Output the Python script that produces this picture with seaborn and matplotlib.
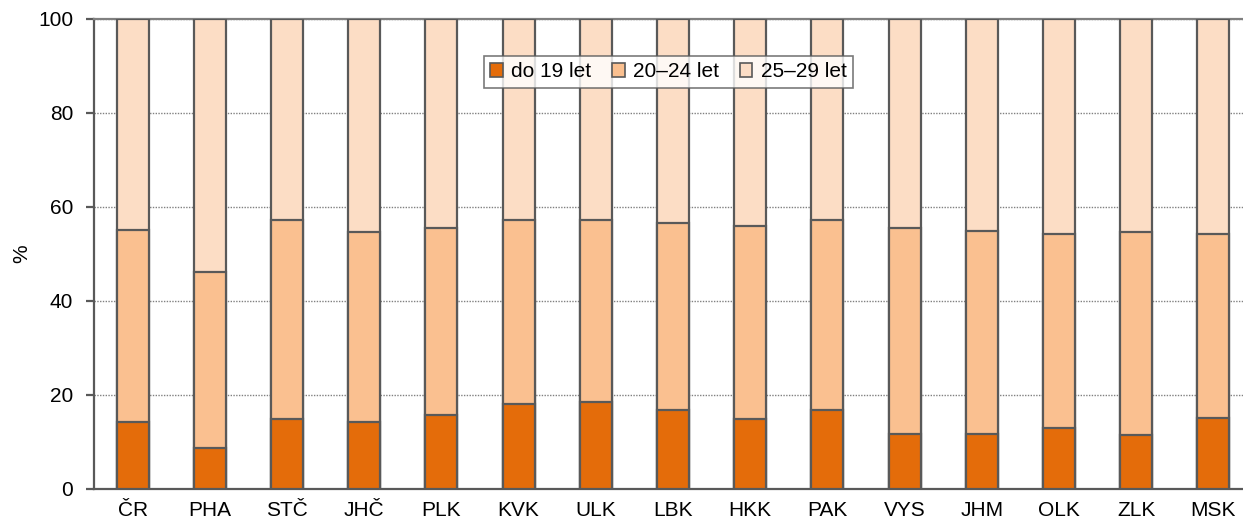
import matplotlib
matplotlib.use("Agg")
import pandas as pd
import matplotlib.pyplot as plt
import seaborn as sns
from matplotlib.patches import Patch

# Data (percent shares by age group)
regions = ["ČR", "PHA", "STČ", "JHČ", "PLK", "KVK", "ULK", "LBK",
           "HKK", "PAK", "VYS", "JHM", "OLK", "ZLK", "MSK"]
do_19 = [14.3, 8.8, 14.8, 14.3, 15.7, 18.1, 18.6, 16.9,
         14.8, 16.9, 11.8, 11.8, 13.0, 11.4, 15.2]
od_20_24 = [40.8, 37.4, 42.4, 40.4, 39.8, 39.1, 38.6, 39.6,
            41.2, 40.4, 43.7, 43.2, 41.2, 43.2, 39.0]
od_25_29 = [round(100 - a - b, 1) for a, b in zip(do_19, od_20_24)]
series_names = ["do 19 let", "20–24 let", "25–29 let"]
colors = ["#E46C0A", "#FAC090", "#FCDDC5"]

df = pd.DataFrame({"region": regions, "a": do_19, "b": od_20_24, "c": od_25_29})
df["cum_b"] = df["a"] + df["b"]
df["cum_c"] = df["cum_b"] + df["c"]

sns.set_theme(style="white")
plt.rcParams["font.family"] = ["Liberation Sans", "DejaVu Sans"]
plt.rcParams["text.color"] = "black"
plt.rcParams["xtick.labelcolor"] = "black"
plt.rcParams["ytick.labelcolor"] = "black"

fig = plt.figure(figsize=(12.43, 5.26), dpi=100)
ax = fig.add_axes([94 / 1243, 1 - 489 / 526, (1252 - 94) / 1243, 470 / 526])

edge = "#595959"
bw = 0.415
# draw stacked bars top layer first
for col, c in zip(["cum_c", "cum_b", "a"], colors[::-1]):
    sns.barplot(data=df, x="region", y=col, color=c, edgecolor=edge,
                linewidth=1.6, width=bw, saturation=1, ax=ax, zorder=3)

ax.set_ylim(0, 100)
ax.set_xlim(-0.5, len(regions) - 0.5)
ax.set_yticks([0, 20, 40, 60, 80, 100])
ax.yaxis.grid(True, linestyle=(0, (1.0, 1.0)), color="#808080", linewidth=1.0, zorder=0)
ax.set_axisbelow(True)

ax.set_xlabel("")
ax.set_ylabel("")
fig.text(22 / 1243, 1 - 254 / 526, "%", rotation=90, fontsize=15,
         ha="center", va="center", color="black")

for s in ["left", "bottom", "top", "right"]:
    ax.spines[s].set_color("#595959")
    ax.spines[s].set_linewidth(1.6)
ax.spines["top"].set_color("#808080")

ax.set_xticks(range(len(regions)))
ax.set_xticklabels(regions, fontsize=15, color="black")
ax.tick_params(axis="x", length=0, pad=9)
ax.set_xticks([i - 0.5 for i in range(len(regions) + 1)], minor=True)
ax.tick_params(axis="x", which="minor", direction="out", length=6, width=1.6, color="#595959")
ax.tick_params(axis="y", direction="out", length=6, width=1.6, color="#595959",
               labelsize=15, labelcolor="black", pad=9, left=True)

handles = [Patch(facecolor=c, edgecolor=edge, linewidth=1.2) for c in colors]
leg = ax.legend(handles, series_names, loc="upper center", bbox_to_anchor=(0.496, 0.943),
                ncol=3, fontsize=15, frameon=True, fancybox=False, handlelength=0.6,
                handleheight=0.6, handletextpad=0.4, columnspacing=1.0, borderpad=0.3)
leg.get_frame().set_edgecolor("#595959")
leg.get_frame().set_linewidth(1.2)
for t in leg.get_texts():
    t.set_color("black")
leg.set_zorder(5)

fig.savefig("out.png", dpi=100)
